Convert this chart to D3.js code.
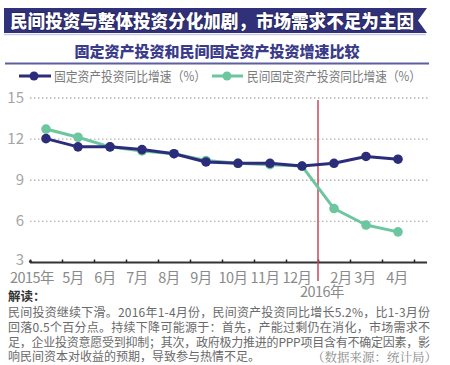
<!DOCTYPE html>
<html><head><meta charset="utf-8">
<script src="https://cdn.jsdelivr.net/npm/d3@7/dist/d3.min.js"></script>
<style>
html,body{margin:0;padding:0;background:#fff;}
svg{display:block;font-family:"Noto Sans CJK SC","Noto Sans",sans-serif;}
</style></head>
<body><svg id="c" width="450" height="365"></svg>
<script>
const title = "民间投资与整体投资分化加剧，市场需求不足为主因";
const subtitle = "固定资产投资和民间固定资产投资增速比较";
const seriesNames = ["固定资产投资同比增速（%）", "民间固定资产投资同比增速（%）"];
const categories = ["2015-04","2015-05","2015-06","2015-07","2015-08","2015-09","2015-10","2015-11","2015-12","2016-02","2016-03","2016-04"];
const tickLabels = ["2015年","5月","6月","7月","8月","9月","10月","11月","12月","2月","3月","4月"];
const totalGrowth = [12.0, 11.4, 11.4, 11.2, 10.9, 10.3, 10.2, 10.2, 10.0, 10.2, 10.7, 10.5];
const privateGrowth = [12.7, 12.1, 11.4, 11.1, 10.9, 10.4, 10.2, 10.1, 10.0, 6.9, 5.7, 5.2];
const yTicks = [3, 6, 9, 12, 15];
const yearLabel2016 = "2016年";
const noteTitle = "解读：";
const noteLines = [
  "民间投资继续下滑。2016年1-4月份，民间资产投资同比增长5.2%，比1-3月份",
  "回落0.5个百分点。持续下降可能源于：首先，产能过剩仍在消化，市场需求不",
  "足，企业投资意愿受到抑制；其次，政府极力推进的PPP项目含有不确定因素，影",
  "响民间资本对收益的预期，导致参与热情不足。"
];
const source = "（数据来源：统计局）";

const svg = d3.select("#c");
const navy = "#2c2d7a", green = "#6cc6a0", red = "#c9495c";

// Banner
svg.append("polygon")
  .attr("points", "4,8 427,8 418,20.5 427,33 4,33")
  .attr("fill", "#303179");
svg.append("line").attr("x1",4).attr("x2",426).attr("y1",34.5).attr("y2",34.5)
  .attr("stroke","#c9cbe0").attr("stroke-width",1.5);
svg.append("text").attr("x", 10).attr("y", 28)
  .attr("textLength", 404).attr("lengthAdjust","spacingAndGlyphs")
  .attr("font-size", 18).attr("font-weight", 900).attr("fill", "#fff")
  .attr("stroke", "#1d1d55").attr("stroke-width", 1.2).attr("paint-order","stroke")
  .text(title);
svg.append("text").attr("x", 217).attr("y", 57).attr("text-anchor","middle")
  .attr("font-size", 15).attr("font-weight", 900).attr("fill", "#3a3c8a")
  .attr("textLength", 285).attr("lengthAdjust","spacingAndGlyphs")
  .text(subtitle);
svg.append("line").attr("x1",5).attr("x2",429).attr("y1",63.5).attr("y2",63.5)
  .attr("stroke","#5d5f9f").attr("stroke-width",2);

// Legend
const leg = [
  {x1:19, x2:51, cx:34, tx:54, color:navy, name:seriesNames[0], tl:152},
  {x1:212, x2:243, cx:227, tx:247, color:green, name:seriesNames[1], tl:174}
];
leg.forEach(l => {
  svg.append("line").attr("x1",l.x1).attr("x2",l.x2).attr("y1",76).attr("y2",76)
    .attr("stroke",l.color).attr("stroke-width",3);
  svg.append("circle").attr("cx",l.cx).attr("cy",76).attr("r",4.5).attr("fill",l.color);
  svg.append("text").attr("x",l.tx).attr("y",80.5).attr("font-size",13).attr("fill","#7a7a7a")
    .attr("textLength",l.tl).attr("lengthAdjust","spacingAndGlyphs").text(l.name);
});

// Scales
const x = d3.scaleBand().domain(categories).range([30, 414]).padding(0);
const xi = d3.scaleLinear().domain([0, categories.length]).range([30, 414]);
const y = d3.scaleLinear().domain([3, 15]).range([262, 97.5]);
const cx = d => x(d) + x.bandwidth()/2;

// Grid
const grid = svg.append("g").attr("transform","translate(30,0)")
  .call(d3.axisLeft(y).tickValues(yTicks.slice(1)).tickSize(-398).tickFormat(""));
grid.select(".domain").remove();
grid.selectAll("line").attr("stroke","#b5b5b5").attr("stroke-width",1.3).attr("stroke-dasharray","1.5,2.5");

// Y labels
svg.append("g").selectAll("text").data(yTicks).join("text")
  .attr("x", 24).attr("y", d => y(d) + (d === 3 ? 3 : 5.5)).attr("text-anchor","end")
  .attr("font-size",15).attr("fill","#a5a5a5").text(d => d);

// X axis
const xa = svg.append("g").attr("transform","translate(0,262.5)")
  .call(d3.axisBottom(xi).tickValues(d3.range(0, categories.length + 1)).tickSize(-3).tickFormat("").tickSizeOuter(0));
xa.select(".domain").attr("d","M30,0H427").attr("stroke","#333").attr("stroke-width",2);
xa.selectAll(".tick line").attr("stroke","#222").attr("stroke-width",1.5);
svg.append("circle").attr("cx",30.5).attr("cy",261.5).attr("r",1.6).attr("fill","#333");

const labelShift = i => i === 0 ? -14 : i === 9 ? 7 : i === 10 ? -1 : i === 11 ? -1 : -5;
svg.append("g").selectAll("text").data(categories).join("text")
  .attr("x", (d,i) => cx(d) + labelShift(i))
  .attr("y", 283).attr("text-anchor","middle").attr("font-size",14.5).attr("fill","#8a8a8a")
  .attr("letter-spacing", -0.5)
  .text((d,i) => tickLabels[i]);

// Red divider between 2015 and 2016
const divX = x(categories[9]);
svg.append("line").attr("x1",divX).attr("x2",divX).attr("y1",100).attr("y2",281)
  .attr("stroke",red).attr("stroke-width",1.5);
svg.append("text").attr("x",divX+4).attr("y",297).attr("text-anchor","middle")
  .attr("font-size",14.5).attr("fill","#8a8a8a").attr("letter-spacing",-0.5).text(yearLabel2016);

// Lines
const line = d3.line().x((d,i) => cx(categories[i])).y(d => y(d));
[[privateGrowth, green], [totalGrowth, navy]].forEach(([vals, color]) => {
  svg.append("path").datum(vals).attr("d", line).attr("fill","none")
    .attr("stroke", color).attr("stroke-width", 3).attr("stroke-linejoin","round");
  svg.append("g").selectAll("circle").data(vals).join("circle")
    .attr("cx", (d,i) => cx(categories[i])).attr("cy", d => y(d)).attr("r", 4.8).attr("fill", color);
});

// Notes
svg.append("text").attr("x",8).attr("y",301).attr("font-size",12.5).attr("font-weight",700)
  .attr("fill","#333").text(noteTitle);
noteLines.forEach((t,i) => {
  const el = svg.append("text").attr("x",8).attr("y",317 + i*14.8).attr("font-size",12).attr("fill","#6a6a6a").text(t);
  if (i < 3) el.attr("textLength", 422).attr("lengthAdjust","spacing");
});
svg.append("text").attr("x",437).attr("y",361.5).attr("text-anchor","end")
  .attr("font-size",12.5).attr("fill","#8a8a8a")
  .attr("font-family","'Noto Serif CJK SC','Noto Sans CJK SC',serif").text(source);
</script></body></html>
